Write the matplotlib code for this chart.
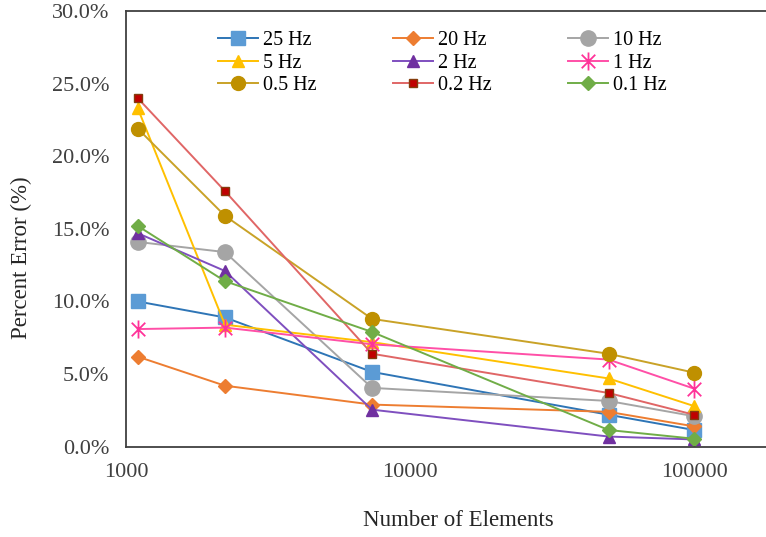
import numpy as np
import matplotlib
matplotlib.use('Agg')
import matplotlib.pyplot as plt
from matplotlib.path import Path

plt.rcParams['font.family'] = ['Liberation Serif', 'DejaVu Serif']

# data
elements = [1100, 2230, 7350, 50000, 100000]
err_25hz = [10.0, 8.9, 5.15, 2.2, 1.15]
err_20hz = [6.2, 4.2, 2.9, 2.4, 1.4]
err_10hz = [14.1, 13.4, 4.05, 3.15, 2.1]
err_5hz = [23.3, 8.4, 7.2, 4.7, 2.8]
err_2hz = [14.7, 12.1, 2.55, 0.7, 0.5]
err_1hz = [8.1, 8.2, 7.05, 6.0, 4.0]
err_05hz = [21.9, 15.9, 8.8, 6.4, 5.1]
err_02hz = [24.0, 17.6, 6.4, 3.7, 2.2]
err_01hz = [15.2, 11.4, 7.9, 1.15, 0.55]
labels = ['25 Hz', '20 Hz', '10 Hz', '5 Hz', '2 Hz', '1 Hz', '0.5 Hz', '0.2 Hz', '0.1 Hz']
yticks = [0, 5, 10, 15, 20, 25, 30]
xticks = [1000, 10000, 100000]

# excel style star: vertical bar plus X
star = Path([(0, -1), (0, 1), (-0.75, -0.75), (0.75, 0.75), (-0.75, 0.75), (0.75, -0.75)],
            [Path.MOVETO, Path.LINETO, Path.MOVETO, Path.LINETO, Path.MOVETO, Path.LINETO])

styles = [
    dict(color='#2E75B6', marker='s', ms=10, mfc='#5B9BD5', mec='#5B9BD5'),
    dict(color='#ED7D31', marker='D', ms=7, mfc='#ED7D31', mec='#ED7D31'),
    dict(color='#A5A5A5', marker='o', ms=11, mfc='#A5A5A5', mec='#A5A5A5'),
    dict(color='#FFC000', marker='^', ms=9, mfc='#FFC000', mec='#FFC000'),
    dict(color='#7F4FBF', marker='^', ms=9, mfc='#7030A0', mec='#7030A0'),
    dict(color='#FF4FA7', marker=star, ms=13, mfc='#FF3399', mec='#FF3399', mew=1.3),
    dict(color='#C9A227', marker='o', ms=10, mfc='#BF9000', mec='#BF9000'),
    dict(color='#E06666', marker='s', ms=6, mfc='#C00000', mec='#843C0C'),
    dict(color='#70AD47', marker='D', ms=7, mfc='#70AD47', mec='#70AD47'),
]
series = [err_25hz, err_20hz, err_10hz, err_5hz, err_2hz, err_1hz, err_05hz, err_02hz, err_01hz]

fig = plt.figure(figsize=(7.66, 5.37), dpi=100)
ax = fig.add_axes([126 / 766, 1 - 446.7 / 537, 640 / 766, 435.7 / 537])

lines = []
for y, lab, st in zip(series, labels, styles):
    ln, = ax.plot(elements, y, label=lab, lw=1.4, **st)
    lines.append(ln)

ax.set_xscale('log')
ax.set_xlim(1000, 10 ** (3 + 640 / 284))
ax.set_ylim(0, 30)
ax.set_xticks(xticks)
ax.set_xticklabels([str(t) for t in xticks])
ax.minorticks_off()
ax.set_yticks(yticks)
ax.set_yticklabels(['%.1f%%' % t for t in yticks])
ax.tick_params(length=0, labelsize=16, labelcolor='#404040')
ax.tick_params(axis='y', pad=12)
ax.tick_params(axis='x', pad=12)

for s in ['left', 'bottom', 'top']:
    ax.spines[s].set_color('#404040')
    ax.spines[s].set_linewidth(1.3)
ax.spines['right'].set_visible(False)

ax.set_xlabel('Number of Elements', fontsize=16.5, color='#262626')
ax.set_ylabel('Percent Error (%)', fontsize=16.5, color='#262626')
ax.xaxis.set_label_coords(332 / 640, -(510 - 446.7) / 435.7)
ax.yaxis.set_label_coords(-(126 - 32) / 640, (446.7 - 258) / 435.7)

# legend fills row by row in the reference
order = [0, 3, 6, 1, 4, 7, 2, 5, 8]
ax.legend([lines[i] for i in order], [labels[i] for i in order],
          ncol=3, loc='upper left', bbox_to_anchor=(0.131, 0.972), frameon=False,
          fontsize=14.5, handlelength=2.0, columnspacing=3.78, labelspacing=0.17,
          handletextpad=0.25, borderaxespad=0)

fig.savefig('out.png', dpi=100)
